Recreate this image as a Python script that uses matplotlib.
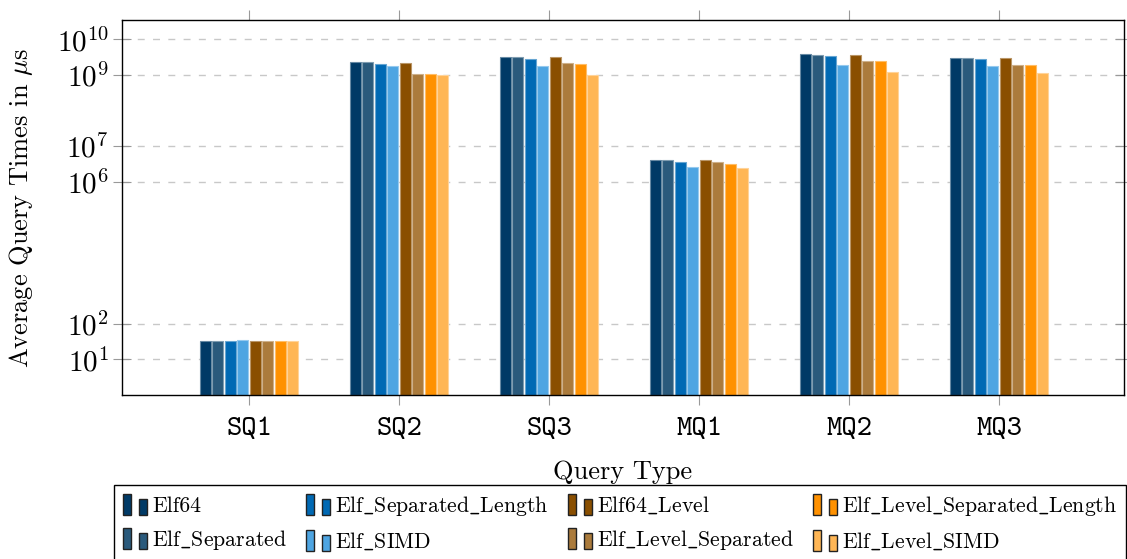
import numpy as np
import matplotlib
matplotlib.use("Agg")
import matplotlib.pyplot as plt
from matplotlib.patches import Patch, Rectangle
from matplotlib.legend_handler import HandlerBase
from matplotlib.ticker import NullLocator

# DATA
queries = ["SQ1", "SQ2", "SQ3", "MQ1", "MQ2", "MQ3"]
series = ["Elf64", "Elf_Separated", "Elf_Separated_Length", "Elf_SIMD",
          "Elf64_Level", "Elf_Level_Separated", "Elf_Level_Separated_Length", "Elf_Level_SIMD"]

elf64 = [32, 2.25e9, 3.2e9, 4.14e6, 3.81e9, 3.06e9]
elf_separated = [33, 2.25e9, 3.13e9, 3.96e6, 3.65e9, 3.06e9]
elf_separated_length = [32, 2.06e9, 2.87e9, 3.48e6, 3.49e9, 2.8e9]
elf_simd = [34, 1.73e9, 1.73e9, 2.64e6, 1.85e9, 1.81e9]
elf64_level = [32, 2.11e9, 3.13e9, 3.96e6, 3.65e9, 2.93e9]
elf_level_separated = [32, 1.09e9, 2.11e9, 3.55e6, 2.51e9, 1.85e9]
elf_level_separated_length = [31, 1.09e9, 1.97e9, 3.2e6, 2.4e9, 1.85e9]
elf_level_simd = [31, 1.0e9, 1.0e9, 2.37e6, 1.17e9, 1.12e9]

values = [elf64, elf_separated, elf_separated_length, elf_simd,
          elf64_level, elf_level_separated, elf_level_separated_length, elf_level_simd]

colors = ["#003a66", "#2a5a7c", "#0069b4", "#4ea5e2",
          "#8a4f00", "#ab7b3c", "#ff9100", "#ffb655"]

yticks = [1e1, 1e2, 1e6, 1e7, 1e9, 1e10]

# STYLE
plt.rcParams["font.family"] = ["cmr10"]
plt.rcParams["mathtext.fontset"] = "cm"
plt.rcParams["axes.formatter.use_mathtext"] = True
plt.rcParams["axes.unicode_minus"] = False


def lighten(c, f=0.4):
    rgb = np.array(matplotlib.colors.to_rgb(c))
    return tuple(rgb + (1 - rgb) * f)


def tex_label(name):
    # cmr10 has a dot accent where "_" should be, so take the underscore from cmtt
    return name.replace("_", r"$\mathtt{\_}$")


class TwoBarHandler(HandlerBase):
    def create_artists(self, legend, orig_handle, xdescent, ydescent,
                       width, height, fontsize, trans):
        fc = orig_handle.get_facecolor()
        w = width / 3
        r1 = Rectangle((-xdescent, -ydescent), w, height,
                       facecolor=fc, edgecolor="#222222", lw=1.0, transform=trans)
        r2 = Rectangle((-xdescent + 2 * w, -ydescent), w, height * 0.76,
                       facecolor=fc, edgecolor="#222222", lw=1.0, transform=trans)
        return [r1, r2]


fig = plt.figure(figsize=(11.27, 5.59), dpi=100)
ax = fig.add_axes([0.10825, 0.29338, 0.88909, 0.66995])

x = np.arange(len(queries))
pitch = 0.0833
for k, (name, vals, col) in enumerate(zip(series, values, colors)):
    ax.bar(x + (k - 3.5) * pitch, vals, width=pitch * 0.86, bottom=1,
           color=col, edgecolor=lighten(col), linewidth=0.8, label=name, zorder=2)

ax.set_yscale("log")
ax.set_ylim(1, 3.38e10)
ax.set_xlim(-0.847, 5.833)
ax.set_yticks(yticks)
ax.yaxis.set_minor_locator(NullLocator())
ax.set_xticks(x)
ax.set_xticklabels(queries, fontfamily="cmtt10", fontsize=21)
ax.tick_params(axis="y", labelsize=21, direction="inout", length=13, width=0.8,
               color="#999999", right=True, pad=3)
ax.tick_params(axis="x", direction="out", length=7.5, width=0.8,
               color="#999999", top=True, pad=8)
ax.grid(axis="y", color="#c8c8c8", linestyle=(0, (5, 6)), linewidth=1.0)
ax.set_axisbelow(True)
for s in ax.spines.values():
    s.set_linewidth(1.0)

ax.set_ylabel(r"Average Query Times in $\mu$s", fontsize=19)
ax.yaxis.set_label_coords(-0.087, 0.5)
ax.set_xlabel("Query Type", fontsize=19)
ax.xaxis.set_label_coords(0.5, -0.173)

handles = [Patch(facecolor=c) for c in colors]
fig.legend(handles, [tex_label(s) for s in series], loc="upper left",
           bbox_to_anchor=(114 / 1127, 1 - 485 / 559), bbox_transform=fig.transFigure,
           ncol=4, fontsize=15.7, frameon=True, fancybox=False, framealpha=1,
           edgecolor="black", handlelength=1.1, handleheight=1.12, handletextpad=0.22,
           columnspacing=0.9, labelspacing=0.52, borderpad=0.42, borderaxespad=0,
           handler_map={Patch: TwoBarHandler()})

fig.savefig("out.png", dpi=100)
